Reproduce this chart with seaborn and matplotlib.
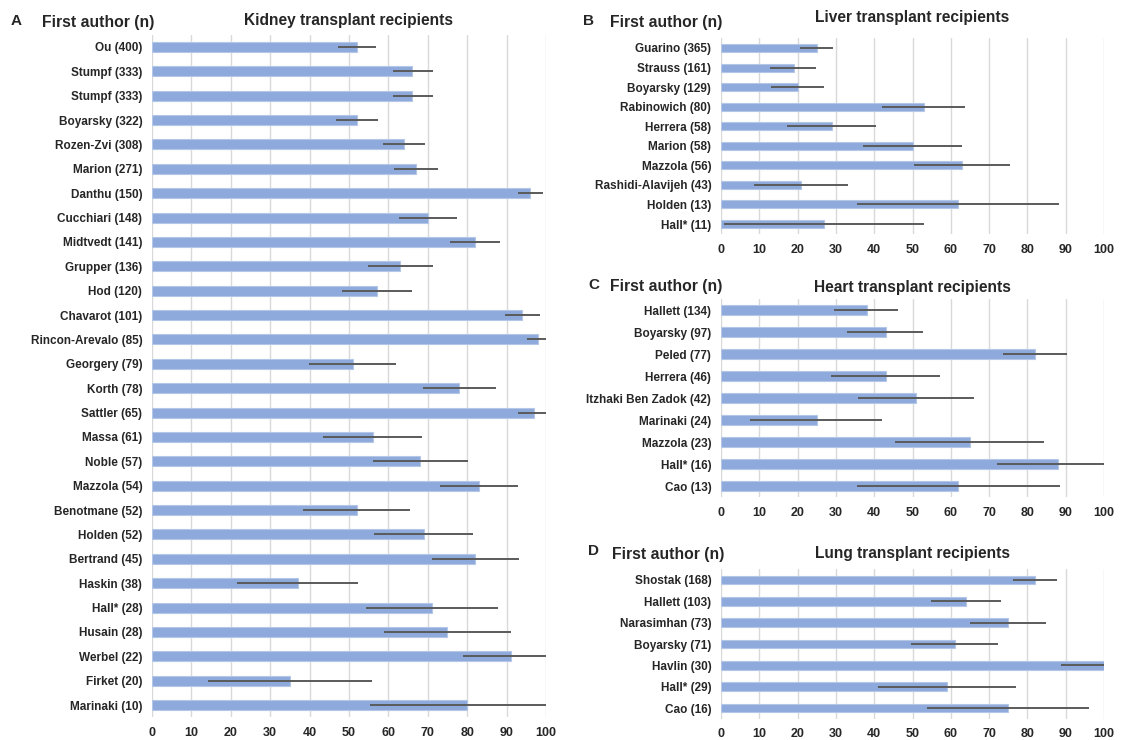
import numpy as np
import matplotlib
matplotlib.use("Agg")
import matplotlib.pyplot as plt
import seaborn as sns

# Kidney transplant recipients
kidney_authors = ["Ou (400)", "Stumpf (333)", "Stumpf (333)", "Boyarsky (322)", "Rozen-Zvi (308)",
                  "Marion (271)", "Danthu (150)", "Cucchiari (148)", "Midtvedt (141)", "Grupper (136)",
                  "Hod (120)", "Chavarot (101)", "Rincon-Arevalo (85)", "Georgery (79)", "Korth (78)",
                  "Sattler (65)", "Massa (61)", "Noble (57)", "Mazzola (54)", "Benotmane (52)",
                  "Holden (52)", "Bertrand (45)", "Haskin (38)", "Hall* (28)", "Husain (28)",
                  "Werbel (22)", "Firket (20)", "Marinaki (10)"]
kidney_rate = [52, 66, 66, 52, 64, 67, 96, 70, 82, 63, 57, 94, 98, 51, 78, 97, 56, 68, 83, 52,
               69, 82, 37, 71, 75, 91, 35, 80]
kidney_lo = [47.2, 61.1, 61.1, 46.6, 58.6, 61.5, 93.0, 62.6, 75.7, 54.9, 48.3, 89.5, 95.2, 39.9,
             68.8, 93.0, 43.5, 56.0, 73.0, 38.3, 56.4, 71.0, 21.6, 54.3, 59.0, 79.0, 14.1, 55.3]
kidney_hi = [56.8, 71.2, 71.2, 57.4, 69.4, 72.6, 99.2, 77.5, 88.4, 71.2, 65.9, 98.6, 100, 62.0,
             87.3, 100, 68.5, 80.1, 93.0, 65.6, 81.5, 93.2, 52.3, 87.8, 91.0, 100, 55.8, 100]

# Liver transplant recipients
liver_authors = ["Guarino (365)", "Strauss (161)", "Boyarsky (129)", "Rabinowich (80)", "Herrera (58)",
                 "Marion (58)", "Mazzola (56)", "Rashidi-Alavijeh (43)", "Holden (13)", "Hall* (11)"]
liver_rate = [25, 19, 20, 53, 29, 50, 63, 21, 62, 27]
liver_lo = [20.5, 12.7, 13.1, 42.0, 17.2, 37.0, 50.3, 8.6, 35.5, 0.7]
liver_hi = [29.2, 24.9, 26.8, 63.7, 40.5, 62.8, 75.5, 33.1, 88.2, 53.0]

# Heart transplant recipients
heart_authors = ["Hallett (134)", "Boyarsky (97)", "Peled (77)", "Herrera (46)",
                 "Itzhaki Ben Zadok (42)", "Marinaki (24)", "Mazzola (23)", "Hall* (16)", "Cao (13)"]
heart_rate = [38, 43, 82, 43, 51, 25, 65, 88, 62]
heart_lo = [29.5, 33.0, 73.5, 28.7, 35.8, 7.7, 45.5, 72.0, 35.6]
heart_hi = [46.2, 52.8, 90.4, 57.2, 66.0, 42.1, 84.4, 100, 88.4]

# Lung transplant recipients
lung_authors = ["Shostak (168)", "Hallett (103)", "Narasimhan (73)", "Boyarsky (71)",
                "Havlin (30)", "Hall* (29)", "Cao (16)"]
lung_rate = [82, 64, 75, 61, 100, 59, 75]
lung_lo = [76.3, 54.7, 65.1, 49.7, 88.7, 41.1, 53.8]
lung_hi = [87.8, 73.1, 84.9, 72.4, 100, 76.9, 96.2]

x_ticks = list(range(0, 101, 10))

BAR = "#8EA9DB"
EDGE = "#B4C7E7"
ERR = "#5A5A5A"
GRID = "#D9D9D9"

sns.set_theme(style="white")
plt.rcParams["font.family"] = ["Liberation Sans", "DejaVu Sans"]
plt.rcParams["font.weight"] = "bold"

W, H = 1122, 740
fig = plt.figure(figsize=(W / 100, H / 100), dpi=100)


def px_axes(left, right, top, bottom):
    return fig.add_axes([left / W, 1 - bottom / H, (right - left) / W, (bottom - top) / H])


def panel(ax, authors, rate, lo, hi, title, letter, letter_xy, head_xy, title_pad):
    pos = np.arange(len(authors))
    sns.barplot(x=rate, y=pos, orient="h", color=BAR, width=0.41, ax=ax,
                edgecolor=EDGE, linewidth=0.8, saturation=1)
    ax.hlines(pos, lo, hi, color=ERR, linewidth=1.4, zorder=3)
    ax.set_xlim(0, 100)
    ax.set_ylim(len(authors) - 0.5, -0.5)
    ax.set_xticks(x_ticks)
    ax.set_xticklabels([str(t) for t in x_ticks], fontsize=9, fontweight="bold")
    ax.set_yticks(pos)
    ax.set_yticklabels(authors, fontsize=8.5, fontweight="bold")
    ax.tick_params(axis="y", length=0, pad=7)
    ax.tick_params(axis="x", length=0, pad=7)
    ax.set_xlabel("")
    ax.set_ylabel("")
    ax.xaxis.grid(True, color=GRID, linewidth=1)
    ax.yaxis.grid(False)
    ax.set_axisbelow(True)
    for s in ax.spines.values():
        s.set_visible(False)
    ax.set_title(title, fontsize=11.2, fontweight="bold", pad=title_pad)
    fig.text(letter_xy[0] / W, 1 - letter_xy[1] / H, letter, fontsize=11,
             fontweight="bold", va="center", ha="left")
    fig.text(head_xy[0] / W, 1 - head_xy[1] / H, "First author (n)", fontsize=11.3,
             fontweight="bold", va="center", ha="left")


axA = px_axes(152, 546, 34.8, 717.2)
panel(axA, kidney_authors, kidney_rate, kidney_lo, kidney_hi,
      "Kidney transplant recipients", "A", (11, 21), (42, 23), 7)

axB = px_axes(721, 1104, 38.2, 233.8)
panel(axB, liver_authors, liver_rate, liver_lo, liver_hi,
      "Liver transplant recipients", "B", (583, 21), (610, 23), 12)

axC = px_axes(721, 1104, 299, 497)
panel(axC, heart_authors, heart_rate, heart_lo, heart_hi,
      "Heart transplant recipients", "C", (588, 285), (610, 287), 5)

axD = px_axes(721, 1104, 569.3, 718.7)
panel(axD, lung_authors, lung_rate, lung_lo, lung_hi,
      "Lung transplant recipients", "D", (588, 551), (612, 554), 8)

fig.savefig("out.png", dpi=100, facecolor="white")
